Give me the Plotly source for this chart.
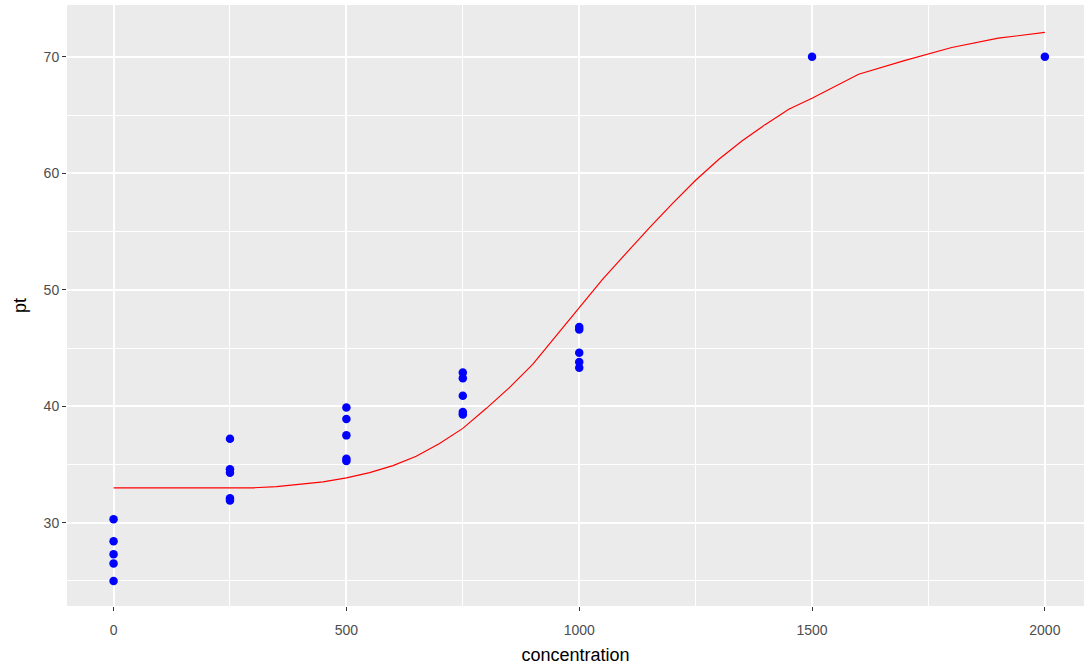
import plotly.graph_objects as go

# observed data
conc_pts = [0, 0, 0, 0, 0,
            250, 250, 250, 250, 250,
            500, 500, 500, 500, 500,
            750, 750, 750, 750, 750,
            1000, 1000, 1000, 1000, 1000,
            1500, 2000]
pt_pts = [30.3, 28.4, 27.3, 26.5, 25.0,
          37.2, 34.6, 34.3, 32.1, 31.9,
          39.9, 38.9, 37.5, 35.5, 35.3,
          42.9, 42.4, 40.9, 39.5, 39.3,
          46.8, 46.6, 44.6, 43.8, 43.3,
          70.0, 70.0]

# fitted curve
curve_x = [0, 100, 200, 300, 350, 400, 450, 500, 550, 600, 650, 700, 750, 800,
           850, 900, 950, 1000, 1050, 1100, 1150, 1200, 1250, 1300, 1350, 1400,
           1450, 1500, 1600, 1700, 1800, 1900, 2000]
curve_y = [33.0, 33.0, 33.0, 33.0, 33.1, 33.3, 33.5, 33.85, 34.3, 34.9, 35.7, 36.8,
           38.1, 39.8, 41.6, 43.6, 46.0, 48.5, 50.9, 53.1, 55.3, 57.4, 59.4, 61.2,
           62.8, 64.2, 65.5, 66.45, 68.5, 69.7, 70.8, 71.6, 72.1]

x_ticks = [0, 500, 1000, 1500, 2000]
y_ticks = [30, 40, 50, 60, 70]

fig = go.Figure()
fig.add_trace(go.Scatter(x=conc_pts, y=pt_pts, mode="markers",
                         marker=dict(color="#0000FF", size=8.5, line=dict(width=0)),
                         showlegend=False))
fig.add_trace(go.Scatter(x=curve_x, y=curve_y, mode="lines",
                         line=dict(color="#FF0000", width=1.2),
                         showlegend=False))

axis_common = dict(
    showgrid=True, gridcolor="white", gridwidth=1.6,
    zeroline=False, showline=False,
    ticks="outside", ticklen=4, tickwidth=1.1, tickcolor="#333333",
    tickfont=dict(family="Liberation Sans, Arial, sans-serif", size=14, color="#4D4D4D"),
    title_font=dict(family="Liberation Sans, Arial, sans-serif", size=18, color="black"),
)

fig.update_xaxes(**axis_common, range=[-100, 2084], tickvals=x_ticks,
                 ticktext=[str(v) for v in x_ticks], ticklabelstandoff=7,
                 minor=dict(dtick=250, tick0=250, showgrid=True, gridcolor="white", gridwidth=0.8, ticks=""),
                 title_text="concentration", title_standoff=11)
fig.update_yaxes(**axis_common, range=[22.85, 74.45], tickvals=y_ticks,
                 ticktext=[str(v) for v in y_ticks],
                 minor=dict(dtick=5, tick0=25, showgrid=True, gridcolor="white", gridwidth=0.8, ticks=""),
                 title_text="pt", title_standoff=12)

fig.update_layout(
    width=1084, height=671,
    margin=dict(l=67, r=0, t=5, b=65),
    plot_bgcolor="#EBEBEB", paper_bgcolor="white",
    font=dict(family="Liberation Sans, Arial, sans-serif"),
)

fig.write_html("out.html")
